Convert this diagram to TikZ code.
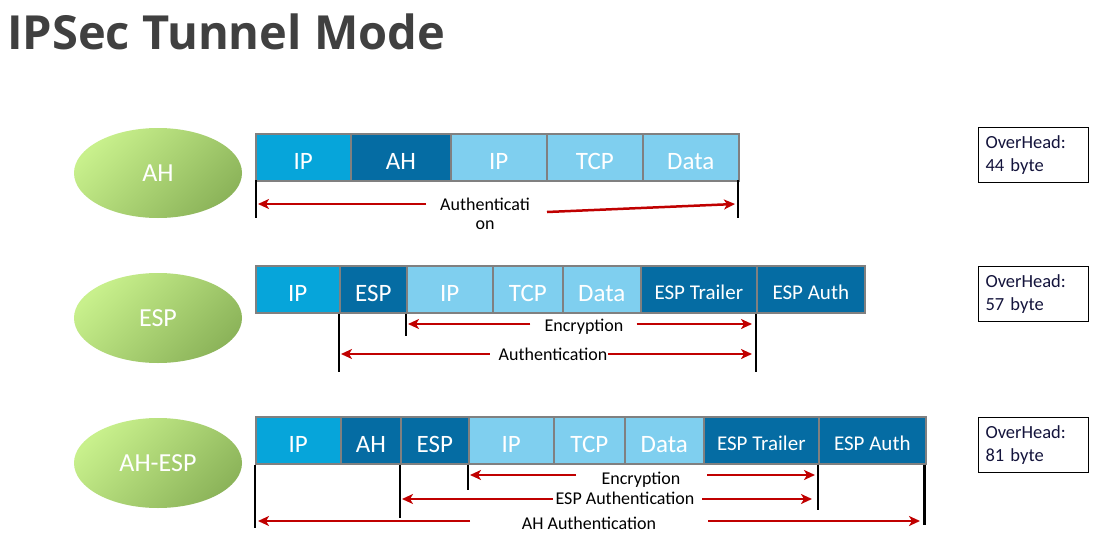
\documentclass[tikz,border=0pt]{standalone}
\usepackage{fontspec}
\setmainfont{Carlito}
\newfontfamily\titlefont{Open Sans}
\usetikzlibrary{arrows.meta,shapes.geometric}
\definecolor{ipblue}{RGB}{6,165,218}
\definecolor{hdrblue}{RGB}{5,108,163}
\definecolor{ltblue}{RGB}{127,207,239}
\definecolor{boxedge}{RGB}{128,128,128}
\definecolor{arrred}{RGB}{192,0,0}
\definecolor{titlegray}{RGB}{64,64,64}
\definecolor{greenlt}{RGB}{200,240,140}
\definecolor{greendk}{RGB}{140,180,90}
\definecolor{ovtext}{RGB}{20,20,60}
\tikzset{
  pkt/.style={draw=boxedge, line width=1.6pt, anchor=north west, inner sep=0pt,
    text=white, font=\fontsize{25}{27}\selectfont, minimum height=47pt, text depth=0pt,
    text height=25pt},
  pktsm/.style={pkt, font=\fontsize{21}{23}\selectfont, text height=20pt},
  proto/.style={ellipse, minimum width=168pt, minimum height=90pt, draw=none,
    left color=greenlt, right color=greendk, shading angle=45,
    text=white, font=\fontsize{26}{28}\selectfont},
  tick/.style={line width=2.5pt, black},
  thintick/.style={line width=1.3pt, black},
  redarr/.style={line width=2.5pt, arrred, -{Stealth[length=11pt,width=10pt,inset=3pt]}},
  lbl/.style={font=\fontsize{18}{19}\selectfont, inner sep=1pt, text=black},
  ovh/.style={draw=black, line width=1pt, anchor=north west, minimum width=110pt,
    minimum height=55pt, align=left, text width=96pt, inner xsep=7pt,
    font=\fontsize{18.5}{23}\selectfont, text=ovtext},
}
\begin{document}
\begin{tikzpicture}[x=1pt,y=-1pt]
\useasboundingbox[fill=white] (0,0) rectangle (1103,538);
\node[anchor=west, text=titlegray, font=\titlefont\bfseries\fontsize{47}{52}\selectfont, inner sep=0pt] (title) at (7,32) {IPSec Tunnel Mode};

% ---------- Row 1: AH ----------
\node[proto] (e1) at (158,173) {AH};
\node[pkt, fill=ipblue, minimum width=95pt] (a1) at (255,133) {IP};
\node[pkt, fill=hdrblue, minimum width=100pt] (a2) at (350,133) {AH};
\node[pkt, fill=ltblue, minimum width=96pt] (a3) at (450,133) {IP};
\node[pkt, fill=ltblue, minimum width=96pt] (a4) at (546,133) {TCP};
\node[pkt, fill=ltblue, minimum width=96pt] (a5) at (642,133) {Data};
\coordinate (a1b) at (256,180); \coordinate (a1e) at (256,218);
\coordinate (a5b) at (738,180); \coordinate (a5e) at (738,218);
\draw[tick] (a1b) -- (a1e);
\draw[tick] (a5b) -- (a5e);
\node[lbl, align=center] (l1) at (485,214) {Authenticati\\on};
\coordinate (l1L) at (426,204); \coordinate (l1R) at (547,212);
\coordinate (t1L) at (258,204); \coordinate (t1R) at (735,204);
\draw[redarr] (l1L) -- (t1L);
\draw[redarr] (l1R) -- (t1R);
\node[ovh] (o1) at (978,127) {OverHead:\\44 byte};

% ---------- Row 2: ESP ----------
\node[proto] (e2) at (158,318) {ESP};
\node[pkt, fill=ipblue, minimum width=84pt] (b1) at (255,265) {IP};
\node[pkt, fill=hdrblue, minimum width=67pt] (b2) at (339,265) {ESP};
\node[pkt, fill=ltblue, minimum width=86pt] (b3) at (406,265) {IP};
\node[pkt, fill=ltblue, minimum width=70pt] (b4) at (492,265) {TCP};
\node[pkt, fill=ltblue, minimum width=78pt] (b5) at (562,265) {Data};
\node[pktsm, fill=hdrblue, minimum width=116pt] (b6) at (640,265) {ESP Trailer};
\node[pktsm, fill=hdrblue, minimum width=108pt] (b7) at (756,265) {ESP Auth};
\draw[tick] (b2.south west) -- ++(0,58);
\draw[tick] (b3.south west) -- ++(0,22);
\draw[tick] (b7.south west) -- ++(0,58);
\node[lbl] (l2) at (584,327) {Encryption};
\node[lbl] (l3) at (553,354) {Authentication};
\draw[redarr] (l2.west) ++(-13,-3) -- (408,324);
\draw[redarr] (l2.east) ++(12,-3) -- (752,324);
\draw[redarr] (l3.west) ++(-8,0) -- (341,354);
\draw[redarr] (l3.east) -- (752,354);
\node[ovh] (o2) at (978,266) {OverHead:\\57 byte};

% ---------- Row 3: AH-ESP ----------
\node[proto] (e3) at (158,463) {AH-ESP};
\node[pkt, fill=ipblue, minimum width=85pt] (c1) at (255,416) {IP};
\node[pkt, fill=hdrblue, minimum width=60pt] (c2) at (340,416) {AH};
\node[pkt, fill=hdrblue, minimum width=68pt] (c3) at (400,416) {ESP};
\node[pkt, fill=ltblue, minimum width=85pt] (c4) at (468,416) {IP};
\node[pkt, fill=ltblue, minimum width=71pt] (c5) at (553,416) {TCP};
\node[pkt, fill=ltblue, minimum width=79pt] (c6) at (624,416) {Data};
\node[pktsm, fill=hdrblue, minimum width=115pt] (c7) at (703,416) {ESP Trailer};
\node[pktsm, fill=hdrblue, minimum width=107pt] (c8) at (818,416) {ESP Auth};
\draw[tick] (c1.south west) -- ++(0,63);
\draw[tick] (c3.south west) -- ++(0,53);
\draw[tick] (c4.south west) -- ++(0,25);
\draw[thintick] (c8.south west) -- ++(0,45);
\draw[tick] (c8.south east) ++(-2,0) -- ++(0,60);
\node[lbl] (l4) at (641,480) {Encryption};
\node[lbl] (l5) at (625,498) {ESP Authentication};
\node[lbl] (l6) at (589,523) {AH Authentication};
\draw[redarr] (576,475) -- (470,475);
\draw[redarr] (707,475) -- (815,475);
\draw[redarr] (553,499) -- (402,499);
\draw[redarr] (702,499) -- (812,499);
\draw[redarr] (470,521) -- (258,521);
\draw[redarr] (708,521) -- (920,521);
\node[ovh] (o3) at (978,417) {OverHead:\\81 byte};
\end{tikzpicture}
\end{document}
